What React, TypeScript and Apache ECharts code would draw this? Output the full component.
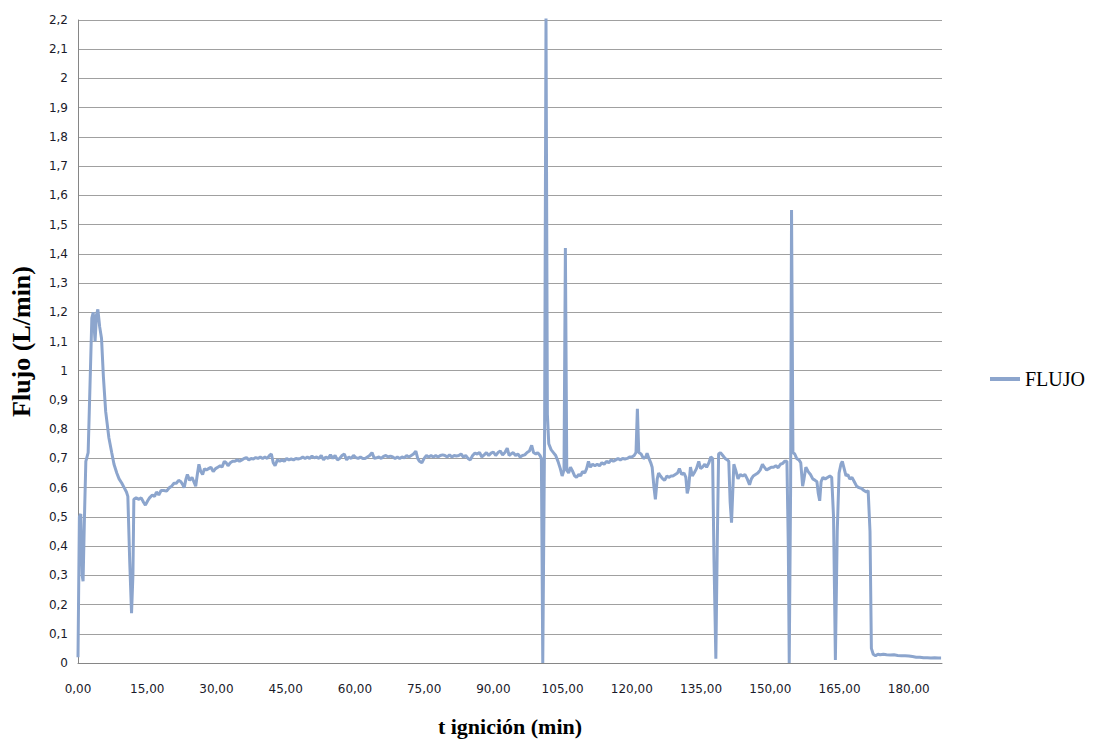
import React, { useEffect, useRef } from "react";
import * as echarts from "echarts";

const times: number[] = [
  0, 0.3, 0.6, 0.9, 1.1, 1.4, 1.7, 2.2, 2.6, 3.0, 3.3, 3.7, 4.0, 4.3, 4.7, 5.1, 5.5, 6.0, 6.7, 7.3,
  7.8, 8.4, 8.9, 9.5, 10.0, 10.5, 10.8, 11.2, 11.6, 11.9, 12.1, 12.6, 13.2, 13.7, 14.2, 14.6, 15.1, 15.5, 16.1, 16.6,
  17.0, 17.5, 18.0, 18.6, 19.2, 19.8, 20.3, 20.8, 21.3, 21.8, 22.3, 22.7, 23.0, 23.4, 23.7, 24.2, 24.7, 25.1, 25.5, 25.9,
  26.2, 26.6, 27.0, 27.4, 27.8, 28.3, 28.8, 29.3, 29.8, 30.3, 30.8, 31.2, 31.7, 32.1, 32.5, 33.0, 33.5, 34.0, 34.5, 35.0,
  35.5, 36.0, 36.5, 37.0, 37.5, 38.0, 38.5, 39.0, 39.5, 40.0, 40.5, 41.0, 41.5, 41.9, 42.3, 42.7, 43.2, 43.7, 44.2, 44.7,
  45.2, 45.7, 46.2, 46.7, 47.2, 47.7, 48.2, 48.7, 49.2, 49.7, 50.2, 50.7, 51.2, 51.7, 52.2, 52.7, 53.2, 53.7, 54.2, 54.7,
  55.2, 55.7, 56.2, 56.7, 57.2, 57.7, 58.2, 58.7, 59.2, 59.7, 60.2, 60.7, 61.2, 61.7, 62.2, 62.7, 63.2, 63.7, 64.2, 64.7,
  65.2, 65.7, 66.2, 66.7, 67.2, 67.7, 68.2, 68.7, 69.2, 69.7, 70.2, 70.7, 71.2, 71.7, 72.2, 72.7, 73.2, 73.6, 74.0, 74.5,
  75.0, 75.5, 76.0, 76.5, 77.0, 77.5, 78.0, 78.5, 79.0, 79.5, 80.0, 80.5, 81.0, 81.5, 82.0, 82.5, 83.0, 83.5, 84.0, 84.5,
  85.0, 85.5, 86.0, 86.5, 87.0, 87.5, 88.0, 88.5, 89.0, 89.5, 90.0, 90.5, 91.0, 91.5, 92.0, 92.5, 93.0, 93.4, 93.8, 94.3,
  94.8, 95.3, 95.8, 96.3, 96.8, 97.3, 97.8, 98.3, 98.7, 99.2, 99.6, 100.1, 100.4, 100.7, 101.1, 101.4, 101.7, 102.0, 102.5, 103.0,
  103.5, 104.0, 104.5, 104.9, 105.3, 105.6, 105.9, 106.3, 106.7, 107.2, 107.6, 108.0, 108.5, 108.9, 109.3, 109.8, 110.2, 110.6, 111.0, 111.5,
  112.0, 112.5, 113.0, 113.5, 114.0, 114.5, 115.0, 115.5, 116.0, 116.5, 117.0, 117.5, 118.0, 118.5, 119.0, 119.5, 120.0, 120.5, 120.9, 121.2,
  121.5, 122.0, 122.5, 123.0, 123.3, 123.7, 124.1, 124.4, 124.8, 125.1, 125.5, 125.8, 126.2, 126.7, 127.1, 127.6, 128.0, 128.5, 128.9, 129.4,
  129.9, 130.3, 130.8, 131.3, 131.7, 132.0, 132.3, 132.7, 133.1, 133.5, 134.0, 134.5, 134.9, 135.3, 135.8, 136.2, 136.7, 137.1, 137.5, 137.8,
  138.2, 138.5, 138.8, 139.2, 139.7, 140.2, 140.7, 141.0, 141.3, 141.6, 141.9, 142.1, 142.5, 143.0, 143.5, 144.0, 144.5, 145.0, 145.5, 145.9,
  146.3, 146.8, 147.3, 147.8, 148.3, 148.7, 149.2, 149.7, 150.2, 150.7, 151.2, 151.7, 152.2, 152.7, 153.1, 153.6, 153.9, 154.1, 154.4, 154.6,
  154.9, 155.3, 155.7, 156.2, 156.6, 157.0, 157.3, 157.7, 158.2, 158.7, 159.2, 159.7, 160.1, 160.4, 160.7, 161.0, 161.4, 161.9, 162.4, 162.9,
  163.3, 163.7, 164.1, 164.5, 164.9, 165.3, 165.6, 166.0, 166.4, 166.8, 167.2, 167.7, 168.2, 168.7, 169.2, 169.8, 170.3, 170.8, 171.2, 171.6,
  171.9, 172.3, 172.8, 173.3, 173.8, 174.5, 175.2, 176.0, 176.8, 177.6, 178.4, 179.2, 180.0, 180.8, 181.6, 182.4, 183.2, 184.0, 184.8, 185.6,
  186.4, 187.0,
];

const flujo: number[] = [
  0.02, 0.5, 0.51, 0.3, 0.28, 0.5, 0.69, 0.72, 0.95, 1.18, 1.2, 1.1, 1.19, 1.21, 1.15, 1.11, 0.98, 0.86, 0.77, 0.72,
  0.68, 0.65, 0.63, 0.615, 0.6, 0.585, 0.57, 0.35, 0.17, 0.3, 0.56, 0.565, 0.56, 0.565, 0.55, 0.54, 0.555, 0.565, 0.575, 0.57,
  0.585, 0.575, 0.59, 0.59, 0.588, 0.6, 0.605, 0.615, 0.615, 0.625, 0.62, 0.61, 0.6, 0.63, 0.645, 0.625, 0.635, 0.62, 0.605, 0.65,
  0.68, 0.655, 0.645, 0.665, 0.66, 0.665, 0.67, 0.655, 0.665, 0.67, 0.675, 0.67, 0.69, 0.685, 0.675, 0.685, 0.69, 0.69, 0.695, 0.69,
  0.695, 0.7, 0.703, 0.695, 0.7, 0.698, 0.703, 0.7, 0.705, 0.7, 0.705, 0.7, 0.71, 0.715, 0.685, 0.675, 0.695, 0.69, 0.695, 0.69,
  0.7, 0.695, 0.698, 0.695, 0.7, 0.698, 0.7, 0.705, 0.7, 0.705, 0.7, 0.708, 0.702, 0.705, 0.7, 0.71, 0.695, 0.705, 0.7, 0.712,
  0.7, 0.71, 0.695, 0.7, 0.71, 0.715, 0.695, 0.705, 0.7, 0.71, 0.703, 0.7, 0.705, 0.7, 0.7, 0.705, 0.71, 0.72, 0.7, 0.702,
  0.705, 0.7, 0.707, 0.71, 0.705, 0.708, 0.705, 0.7, 0.705, 0.7, 0.705, 0.702, 0.71, 0.705, 0.71, 0.715, 0.725, 0.7, 0.69, 0.685,
  0.7, 0.71, 0.705, 0.71, 0.705, 0.71, 0.705, 0.71, 0.712, 0.71, 0.705, 0.712, 0.705, 0.71, 0.708, 0.71, 0.715, 0.705, 0.71, 0.7,
  0.695, 0.71, 0.718, 0.715, 0.72, 0.705, 0.712, 0.72, 0.71, 0.718, 0.722, 0.71, 0.72, 0.725, 0.712, 0.72, 0.735, 0.71, 0.715, 0.72,
  0.71, 0.715, 0.705, 0.71, 0.712, 0.72, 0.725, 0.745, 0.72, 0.715, 0.72, 0.71, 0.7, 0.0, 0.8, 2.21, 0.85, 0.75, 0.73, 0.72,
  0.71, 0.69, 0.665, 0.64, 0.66, 1.42, 0.66, 0.65, 0.67, 0.655, 0.64, 0.635, 0.645, 0.64, 0.655, 0.65, 0.665, 0.69, 0.67, 0.68,
  0.675, 0.68, 0.675, 0.685, 0.68, 0.69, 0.685, 0.695, 0.69, 0.695, 0.7, 0.695, 0.7, 0.698, 0.7, 0.705, 0.705, 0.71, 0.72, 0.87,
  0.72, 0.715, 0.7, 0.705, 0.718, 0.7, 0.685, 0.67, 0.6, 0.56, 0.63, 0.65, 0.64, 0.63, 0.625, 0.64, 0.635, 0.64, 0.64, 0.645,
  0.65, 0.665, 0.645, 0.65, 0.635, 0.58, 0.6, 0.67, 0.64, 0.65, 0.665, 0.69, 0.665, 0.67, 0.68, 0.67, 0.685, 0.705, 0.7, 0.35,
  0.015, 0.4, 0.715, 0.72, 0.71, 0.7, 0.695, 0.69, 0.55, 0.48, 0.6, 0.68, 0.66, 0.63, 0.645, 0.64, 0.645, 0.63, 0.61, 0.63,
  0.64, 0.645, 0.65, 0.66, 0.68, 0.67, 0.66, 0.665, 0.67, 0.67, 0.675, 0.668, 0.68, 0.683, 0.69, 0.69, 0.4, 0.0, 0.6, 1.55,
  0.72, 0.715, 0.7, 0.695, 0.685, 0.605, 0.63, 0.67, 0.655, 0.645, 0.63, 0.625, 0.62, 0.58, 0.555, 0.62, 0.635, 0.63, 0.635, 0.64,
  0.635, 0.5, 0.01, 0.45, 0.65, 0.68, 0.69, 0.665, 0.64, 0.645, 0.63, 0.635, 0.62, 0.605, 0.6, 0.597, 0.59, 0.585, 0.59, 0.45,
  0.05, 0.03, 0.025, 0.03, 0.028, 0.03, 0.028, 0.027, 0.028, 0.026, 0.025, 0.025, 0.024, 0.022, 0.02, 0.02, 0.018, 0.018, 0.017, 0.018,
  0.017, 0.017,
];

const seriesName = "FLUJO";
const xTitle = "t ignición (min)";
const yTitle = "Flujo (L/min)";

export default function App() {
  const ref = useRef<HTMLDivElement>(null);
  useEffect(() => {
    if (!ref.current) return;
    const chart = echarts.init(ref.current, null, { renderer: "svg" });
    const data = times.map((t, i) => [t, flujo[i]]);
    const serif = "'Liberation Serif', 'Times New Roman', serif";
    const sans = "'DejaVu Sans', Verdana, sans-serif";
    chart.setOption({
      animation: false,
      backgroundColor: "#ffffff",
      grid: { left: 78, right: 157, top: 20, bottom: 82, containLabel: false },
      legend: {
        left: 985,
        top: 364,
        icon: "rect",
        itemWidth: 30,
        itemHeight: 4,
        itemGap: 5,
        data: [seriesName],
        textStyle: { fontFamily: serif, fontSize: 20, color: "#000" },
      },
      xAxis: {
        type: "value",
        min: 0,
        max: 187.2,
        interval: 15,
        name: xTitle,
        nameLocation: "middle",
        nameGap: 52,
        nameTextStyle: { fontFamily: serif, fontSize: 22, fontWeight: "bold", color: "#000" },
        axisLine: { show: true, lineStyle: { color: "#868686", width: 1 } },
        axisTick: { show: false },
        splitLine: { show: false },
        axisLabel: {
          showMaxLabel: false,
          margin: 20,
          fontFamily: sans,
          fontSize: 12,
          color: "#1a1a2a",
          formatter: (v: number) => (Math.abs(v % 15) < 1e-6 ? v.toFixed(2).replace(".", ",") : ""),
        },
      },
      yAxis: {
        type: "value",
        min: 0,
        max: 2.2,
        interval: 0.1,
        name: yTitle,
        nameLocation: "middle",
        nameGap: 44,
        nameRotate: 90,
        nameTextStyle: { fontFamily: serif, fontSize: 26, fontWeight: "bold", color: "#000" },
        axisLine: { show: true, lineStyle: { color: "#868686", width: 1 } },
        axisTick: { show: false },
        splitLine: { show: true, lineStyle: { color: "#a0a0a0", width: 1 } },
        axisLabel: {
          margin: 10,
          fontFamily: sans,
          fontSize: 12,
          color: "#1a1a2a",
          formatter: (v: number) => String(Math.round(v * 10) / 10).replace(".", ","),
        },
      },
      series: [
        {
          name: seriesName,
          type: "line",
          data,
          showSymbol: false,
          symbol: "none",
          lineStyle: { color: "#8CA5CD", width: 3 },
          itemStyle: { color: "#8CA5CD" },
        },
      ],
    });
    return () => chart.dispose();
  }, []);
  return (
    <div
      ref={ref}
      style={{ position: "fixed", left: 0, top: 0, width: 1099, height: 745, background: "#fff" }}
    />
  );
}
